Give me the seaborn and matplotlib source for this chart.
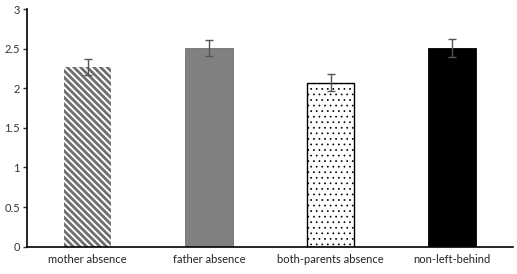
import matplotlib
matplotlib.use("Agg")
import matplotlib.pyplot as plt
import numpy as np
import pandas as pd
import seaborn as sns

groups = ["mother absence", "father absence", "both-parents absence", "non-left-behind"]
means = [2.27, 2.51, 2.07, 2.51]
errors = [0.10, 0.105, 0.11, 0.115]

faces = ["white", "#808080", "white", "black"]
edges = ["#6e6e6e", "#6e6e6e", "black", "black"]
hatches = ["\\\\\\\\\\", "", "...", ""]
hatch_widths = [2.0, 1.0, 0.5, 1.0]

sns.set_style("white")
plt.rcParams["font.family"] = ["Lato", "DejaVu Sans"]

df = pd.DataFrame({"group": groups, "mean": means})

fig = plt.figure(figsize=(5.17, 2.74), dpi=100)
ax = fig.add_axes([0.052, 0.100, 0.940, 0.867])

sns.barplot(data=df, x="group", y="mean", order=groups, width=0.39,
            errorbar=None, ax=ax)

for bar, fc, ec, h, hw in zip(ax.patches, faces, edges, hatches, hatch_widths):
    bar.set_facecolor(fc)
    bar.set_edgecolor(ec)
    bar.set_hatch(h)
    if hasattr(bar, "set_hatch_linewidth"):
        bar.set_hatch_linewidth(hw)
    bar.set_linewidth(1.0 if h == "..." else 0.6)
ax.patches[0].set_linewidth(0)

ax.errorbar(range(len(groups)), means, yerr=errors, fmt="none",
            ecolor="#555555", elinewidth=1, capsize=3, capthick=1)

ax.set_xlim(-0.5, 3.5)
ax.set_ylim(0, 3)
ax.set_yticks(np.arange(0, 3.01, 0.5))
ax.set_yticklabels(["0", "0.5", "1", "1.5", "2", "2.5", "3"])
ax.set_xticks(np.arange(-0.5, 3.6, 1), minor=True)
ax.tick_params(axis="x", which="major", length=0, labelsize=8, colors="#222222", pad=5)
ax.tick_params(axis="x", which="minor", length=4, width=1, color="black", direction="out")
ax.tick_params(axis="y", length=3, width=1, labelsize=8, colors="#333333", pad=2, left=True)
ax.set_xlabel("")
ax.set_ylabel("")

for s in ["top", "right"]:
    ax.spines[s].set_visible(False)
for s in ["left", "bottom"]:
    ax.spines[s].set_color("black")
    ax.spines[s].set_linewidth(1.2)

fig.savefig("out.png", dpi=100)
